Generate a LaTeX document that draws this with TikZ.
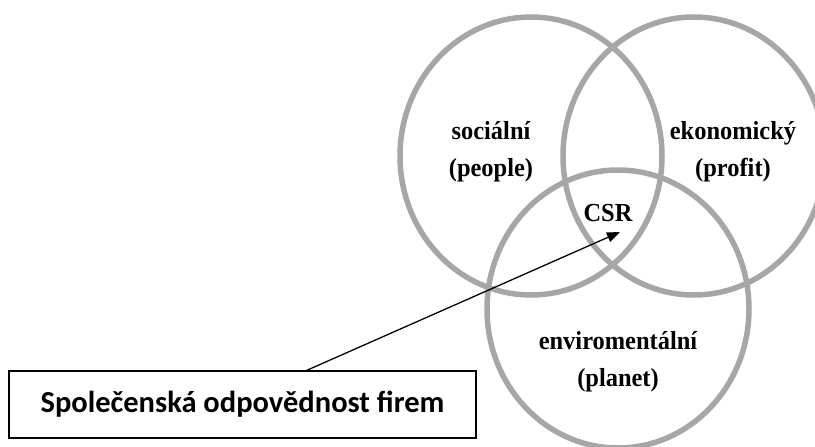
\documentclass[tikz,border=0pt]{standalone}
\usepackage{fontspec}
\setmainfont{Liberation Serif}
\newfontfamily\pillarfont{Liberation Serif}[FakeStretch=0.94]
\newfontfamily\boxfont{Carlito}
\usetikzlibrary{shapes.geometric,arrows.meta}
\definecolor{ringgray}{HTML}{A6A6A6}

\begin{document}
\begin{tikzpicture}[
        x=1pt,
        y=-1pt,
        ring/.style={
            ellipse,
            draw=ringgray,
            line width=5.5pt,
            minimum width=262pt,
            minimum height=278pt,
            inner sep=0pt,
        },
        pillar/.style={
            align=center,
            font=\pillarfont\bfseries\fontsize{26}{37}\selectfont,
        },
        firmbox/.style={
            draw=black,
            line width=1.3pt,
            minimum width=467pt,
            minimum height=67pt,
            font=\boxfont\bfseries\fontsize{30.5}{36}\selectfont,
        },
    ]

    \useasboundingbox (0, 0) rectangle (815, 447);

    \node[ring] (social)  at (531, 156) {};
    \node[ring] (economy) at (694, 156) {};
    \node[ring] (planet)  at (618, 309) {};

    \node[pillar] (t1) at (491, 152) {sociální\\(people)};
    \node[pillar] (t2) at (733, 152) {ekonomický\\(profit)};
    \node[pillar] (t3) at (618, 362) {enviromentální\\(planet)};
    \node[pillar] (t4) at (608, 213) {CSR};

    \node[firmbox] (firm) at (242.5, 404.5) {Společenská odpovědnost firem};
    \coordinate (tip) at (620, 232);

    \draw[-{Triangle[length=13pt,width=10pt]}, line width=1.3pt] (firm.28) -- (tip);

\end{tikzpicture}
\end{document}
